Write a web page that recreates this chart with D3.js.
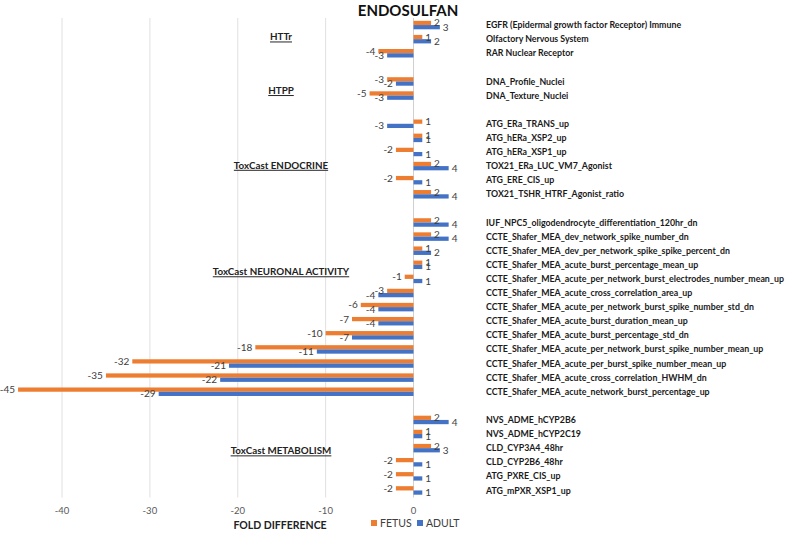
<!DOCTYPE html>
<html>
<head>
<meta charset="utf-8">
<script src="https://cdn.jsdelivr.net/npm/d3@7"></script>
<style>
  body { margin: 0; background: #fff; }
  svg { font-family: Lato, "Open Sans", sans-serif; }
</style>
</head>
<body>
<div id="chart"></div>
<script>
// Assay names, top to bottom; blank-ish names are spacer rows between sections
const categories = [
  "EGFR (Epidermal growth factor Receptor) Immune",
  "Olfactory Nervous System",
  "RAR Nuclear Receptor",
  "",
  "DNA_Profile_Nuclei",
  "DNA_Texture_Nuclei",
  " ",
  "ATG_ERa_TRANS_up",
  "ATG_hERa_XSP2_up",
  "ATG_hERa_XSP1_up",
  "TOX21_ERa_LUC_VM7_Agonist",
  "ATG_ERE_CIS_up",
  "TOX21_TSHR_HTRF_Agonist_ratio",
  "  ",
  "IUF_NPC5_oligodendrocyte_differentiation_120hr_dn",
  "CCTE_Shafer_MEA_dev_network_spike_number_dn",
  "CCTE_Shafer_MEA_dev_per_network_spike_spike_percent_dn",
  "CCTE_Shafer_MEA_acute_burst_percentage_mean_up",
  "CCTE_Shafer_MEA_acute_per_network_burst_electrodes_number_mean_up",
  "CCTE_Shafer_MEA_acute_cross_correlation_area_up",
  "CCTE_Shafer_MEA_acute_per_network_burst_spike_number_std_dn",
  "CCTE_Shafer_MEA_acute_burst_duration_mean_up",
  "CCTE_Shafer_MEA_acute_burst_percentage_std_dn",
  "CCTE_Shafer_MEA_acute_per_network_burst_spike_number_mean_up",
  "CCTE_Shafer_MEA_acute_per_burst_spike_number_mean_up",
  "CCTE_Shafer_MEA_acute_cross_correlation_HWHM_dn",
  "CCTE_Shafer_MEA_acute_network_burst_percentage_up",
  "   ",
  "NVS_ADME_hCYP2B6",
  "NVS_ADME_hCYP2C19",
  "CLD_CYP3A4_48hr",
  "CLD_CYP2B6_48hr",
  "ATG_PXRE_CIS_up",
  "ATG_mPXR_XSP1_up"
];

const fetus = [2, 1, -4, null, -3, -5, null, 1, 1, -2, 2, -2, 2, null,
  2, 2, 1, 1, -1, -3, -6, -7, -10, -18, -32, -35, -45, null,
  2, 1, 2, -2, -2, -2];
const adult = [3, 2, -3, null, -2, -3, null, -3, 1, 1, 4, 1, 4, null,
  4, 4, 2, 1, 1, -4, -4, -4, -7, -11, -21, -22, -29, null,
  4, 1, 3, 1, 1, 1];

const seriesNames = ["FETUS", "ADULT"];
const seriesColors = ["#ED7D31", "#4472C4"];
const xTicks = [-40, -30, -20, -10, 0];

// section headings and the row they sit beside (fractional, in rows)
const sectionNames = ["HTTr", "HTPP", "ToxCast ENDOCRINE", "ToxCast NEURONAL ACTIVITY", "ToxCast METABOLISM"];
const sectionAnchors = [0.85, 4.65, 9.95, 17.5, 30.2];

const width = 788, height = 535;

const svg = d3.select("#chart").append("svg")
  .attr("width", width)
  .attr("height", height);

const x = d3.scaleLinear().domain([-40, 0]).range([62, 413.5]);
const y = d3.scaleBand().domain(categories).range([18, 497.5]);
const ySub = d3.scaleBand().domain(seriesNames).range([0, y.bandwidth()]).paddingOuter(0.66);
const rowY = i => y(categories[0]) + y.step() * i + y.step() / 2;

// gridlines
svg.append("g")
  .selectAll("line")
  .data(xTicks)
  .join("line")
  .attr("x1", d => x(d)).attr("x2", d => x(d))
  .attr("y1", 18).attr("y2", 497.5)
  .attr("stroke", d => d === 0 ? "#d0d0d0" : "#e0e0e0")
  .attr("stroke-width", 1);

// tick labels
svg.append("g")
  .selectAll("text")
  .data(xTicks)
  .join("text")
  .attr("x", d => x(d))
  .attr("y", 514)
  .attr("text-anchor", "middle")
  .attr("font-size", 9.5)
  .attr("fill", "#595959")
  .text(d => d);

// title
svg.append("text")
  .attr("x", 408).attr("y", 16)
  .attr("text-anchor", "middle")
  .attr("font-size", 15)
  .attr("font-weight", 700)
  .attr("fill", "#111")
  .text("ENDOSULFAN");

// bars
const rows = categories.map((c, i) => ({ cat: c, vals: [fetus[i], adult[i]] }))
  .filter(r => r.vals[0] !== null);

const rowG = svg.append("g")
  .selectAll("g")
  .data(rows)
  .join("g")
  .attr("transform", d => `translate(0,${y(d.cat)})`);

rowG.selectAll("rect")
  .data(d => d.vals.map((v, k) => ({ v, k })))
  .join("rect")
  .attr("x", d => x(Math.min(0, d.v)))
  .attr("width", d => Math.abs(x(d.v) - x(0)))
  .attr("y", d => ySub(seriesNames[d.k]))
  .attr("height", ySub.bandwidth())
  .attr("fill", d => seriesColors[d.k]);

rowG.selectAll("text.val")
  .data(d => d.vals.map((v, k) => ({ v, k })))
  .join("text")
  .attr("class", "val")
  .attr("x", d => d.v < 0 ? x(d.v) - 3 : x(d.v) + 3)
  .attr("y", d => ySub(seriesNames[d.k]) + ySub.bandwidth() / 2)
  .attr("dy", "0.35em")
  .attr("text-anchor", d => d.v < 0 ? "end" : "start")
  .attr("font-size", 10)
  .attr("fill", "#404040")
  .text(d => d.v);

// category labels on the right
svg.append("g")
  .selectAll("text")
  .data(rows)
  .join("text")
  .attr("x", 486)
  .attr("y", d => y(d.cat) + y.bandwidth() / 2)
  .attr("dy", "0.35em")
  .attr("font-size", 8.8)
  .attr("font-weight", 700)
  .attr("fill", "#1a1a1a")
  .text(d => d.cat);

// section headings
const sec = svg.append("g")
  .selectAll("g")
  .data(sectionNames.map((n, i) => ({ n, a: sectionAnchors[i] })))
  .join("g");

sec.append("text")
  .attr("x", 281)
  .attr("y", d => rowY(d.a))
  .attr("dy", "0.35em")
  .attr("text-anchor", "middle")
  .attr("font-size", 9.8)
  .attr("font-weight", 700)
  .attr("fill", "#222")
  .attr("text-decoration", "underline")
  .text(d => d.n);

// axis title
svg.append("text")
  .attr("x", 280).attr("y", 529)
  .attr("text-anchor", "middle")
  .attr("font-size", 10.5)
  .attr("font-weight", 700)
  .attr("fill", "#222")
  .text("FOLD DIFFERENCE");

// legend
const leg = svg.append("g")
  .selectAll("g")
  .data(seriesNames)
  .join("g")
  .attr("transform", (d, i) => `translate(${371 + i * 46},520)`);

leg.append("rect")
  .attr("width", 6).attr("height", 6)
  .attr("fill", (d, i) => seriesColors[i]);

leg.append("text")
  .attr("x", 9).attr("y", 3)
  .attr("dy", "0.35em")
  .attr("font-size", 10.5)
  .attr("fill", "#404040")
  .text(d => d);
</script>
</body>
</html>
